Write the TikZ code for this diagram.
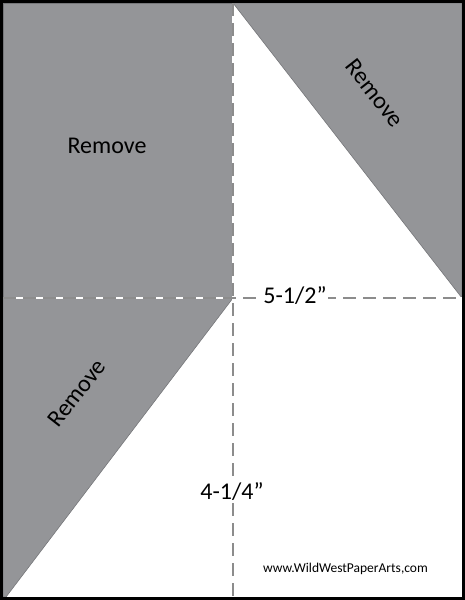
\documentclass[tikz,border=0pt]{standalone}
\usepackage{fontspec}
\setmainfont[Ligatures=ResetAll]{Carlito}
\usepackage{tikz}

\definecolor{waste}{RGB}{148,149,152}
\definecolor{cutline}{RGB}{140,140,140}

\begin{document}
\begin{tikzpicture}[
    x=1pt, y=-1pt,
    waste/.style={fill=waste, draw=waste!80!black, line width=0.6pt},
    cut/.style={cutline, line width=2pt, dash pattern=on 13pt off 7pt},
    under/.style={white, line width=2pt},
    label/.style={font=\fontsize{24}{28}\selectfont, inner sep=1pt},
    measure/.style={label, fill=white}
  ]
  \useasboundingbox (0,0) rectangle (465,600);
  % Corners of the sheet and the cut points
  \coordinate (tl) at (3,3);
  \coordinate (tr) at (462,3);
  \coordinate (bl) at (3,597);
  \coordinate (br) at (462,597);
  \coordinate (tm) at (233,3);
  \coordinate (bm) at (233,597);
  \coordinate (ml) at (3,298);
  \coordinate (mr) at (462,298);
  \coordinate (c) at (233,298);
  \coordinate (bd) at (6,597);

  % Pieces to remove
  \fill[waste] (tl) rectangle (c);
  \filldraw[waste] (tm) -- (tr) -- (mr) -- cycle;
  \filldraw[waste] (ml) -- (c) -- (bd) -- (bl) -- cycle;

  % Cut lines
  \draw[under] (tm) -- (bm);
  \draw[under] (ml) -- (mr);
  \draw[cut] (tm) -- (bm);
  \draw[cut] (ml) -- (mr);

  % Labels
  \node[label] (rm1) at (107,146) {Remove};
  \node[label, rotate=-52] (rm2) at (375,93) {Remove};
  \node[label, rotate=52] (rm3) at (77,393) {Remove};
  \node[measure] (w) at (295,296) {5-1/2"};
  \node[measure] (h) at (232,492) {4-1/4"};
  \node[font=\fontsize{13.5}{16}\selectfont] (url) at (345.5,569) {www.WildWestPaperArts,com};

  % Sheet border
  \draw[line width=3pt] (1.5,1.5) rectangle (463.5,598.5);
\end{tikzpicture}
\end{document}
